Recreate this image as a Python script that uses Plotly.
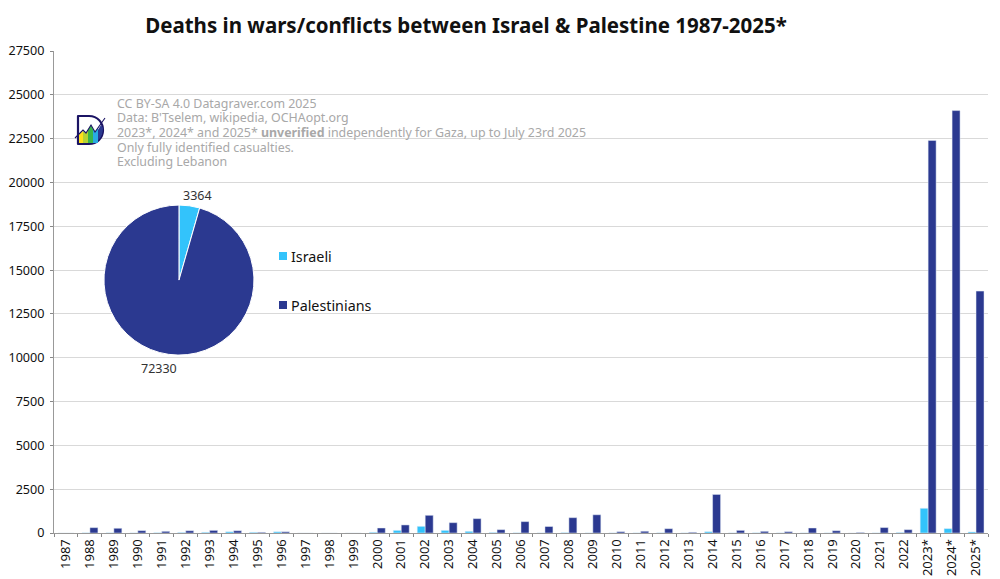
import plotly.graph_objects as go

FONT = "Noto Sans"

years = [str(y) for y in range(1987, 2023)] + ["2023*", "2024*", "2025*"]
israeli = [0, 10, 10, 5, 15, 30, 40, 70, 40, 70, 0, 0, 0, 40,
           150, 380, 150, 95, 30, 10, 5, 20, 5, 5, 5, 10, 5, 75,
           5, 10, 5, 5, 5, 0, 5, 30, 1410, 250, 60]
palestinians = [0, 305, 270, 135, 95, 130, 150, 130, 40, 70, 0, 0, 0, 285,
                460, 1010, 590, 820, 190, 650, 370, 875, 1040, 75, 100, 245, 40, 2200,
                150, 95, 75, 285, 130, 30, 310, 190, 22400, 24100, 13800]

pie_labels = ["Israeli", "Palestinians"]
pie_values = [3364, 72330]

y_ticks = [0, 2500, 5000, 7500, 10000, 12500, 15000, 17500, 20000, 22500, 25000, 27500]

title = "Deaths in wars/conflicts between Israel & Palestine 1987-2025*"
credit_lines = [
    "CC BY-SA 4.0 Datagraver.com 2025",
    "Data: B'Tselem, wikipedia, OCHAopt.org",
    "2023*, 2024* and 2025* <b>unverified</b> independently for Gaza, up to July 23rd 2025",
    "Only fully identified casualties.",
    "Excluding Lebanon",
]

LIGHT = "#33c3fb"
DARK = "#2b3990"

# the page puts the figure 8px in from the top left corner of the window
W, H = 992, 571
PLOT_W, PLOT_H = 934, 482
PLOT_LEFT, PLOT_TOP = 54, 51


def px(x):
    return (x - PLOT_LEFT) / PLOT_W


def py(y):
    return 1 - (y - PLOT_TOP) / PLOT_H


logo = ("<svg xmlns='http://www.w3.org/2000/svg' viewBox='0 0 32 32'>"
        "<path d='M4 2H15C24 2 29 9 29 16C29 24 23 30 15 30H4Z' fill='white' stroke='%231b1464' stroke-width='2.2' stroke-linejoin='round'/>"
        "<path d='M29 14C29 24 23 29 15 29L22 19L27 11Z' fill='%232b3990'/>"
        "<path d='M5 20L9 17V29H5Z' fill='%23ffe11a'/>"
        "<path d='M9 17L12 19L14 16V29H9Z' fill='%23b5d334'/>"
        "<path d='M14 16L17 11L19 15V29H14Z' fill='%2339b54a'/>"
        "<path d='M19 15L21 18L24 14V29H19Z' fill='%2329abe2'/>"
        "<path d='M1 24L9 16L12 19L17 11L21 18L31 4' fill='none' stroke='%231b1464' stroke-width='1.1'/>"
        "</svg>")

fig = go.Figure()
fig.add_trace(go.Bar(x=years, y=israeli, name="Israeli", marker_color=LIGHT))
fig.add_trace(go.Bar(x=years, y=palestinians, name="Palestinians", marker_color=DARK))
fig.add_trace(go.Pie(
    labels=pie_labels,
    values=pie_values,
    sort=False,
    direction="clockwise",
    rotation=0,
    marker=dict(colors=[LIGHT, DARK], line=dict(color="white", width=1)),
    textinfo="none",
    domain=dict(x=[0.0535, 0.2141], y=[0.369, 0.6805]),
    automargin=False,
))

annotations = []
for i, line in enumerate(credit_lines):
    annotations.append(dict(text=line, xref="paper", yref="paper", x=px(115), y=py(103 + i * 14.7),
                            xanchor="left", yanchor="middle", align="left", showarrow=False, height=15,
                            font=dict(family=FONT, size=12.4, color="#a8a8a8")))

# pie values, placed by hand since plotly pushes outside labels further out
for value, x, y in zip(pie_values, [197, 159], [195, 368]):
    annotations.append(dict(text=str(value), xref="paper", yref="paper", x=px(x), y=py(y),
                            xanchor="center", yanchor="middle", showarrow=False,
                            font=dict(family=FONT, size=12.5, color="#333333")))

# legend entries sit right next to the pie
shapes = []
for label, color, y in zip(pie_labels, [LIGHT, DARK], [256, 305]):
    annotations.append(dict(text=label, xref="paper", yref="paper", x=px(289), y=py(y),
                            xanchor="left", yanchor="middle", showarrow=False,
                            font=dict(family=FONT, size=14.3, color="#111111")))
    shapes.append(dict(type="rect", xref="paper", yref="paper", x0=px(279), x1=px(287),
                       y0=py(y + 4), y1=py(y - 4), fillcolor=color, line_width=0))

fig.update_layout(
    width=W,
    height=H,
    paper_bgcolor="white",
    plot_bgcolor="white",
    margin=dict(l=46, r=12, t=43, b=46),
    barmode="group",
    bargap=1 / 3,
    bargroupgap=0,
    showlegend=False,
    font=dict(family=FONT, color="#111111"),
    title=dict(text=title, font=dict(family=FONT, size=20.5, color="#111111", weight="bold"),
               x=(466 - 8) / W, xanchor="center", y=1 - (26 - 8) / H, yanchor="middle"),
    xaxis=dict(type="category", tickangle=-90, tickson="boundaries", ticks="outside", ticklen=3,
               tickcolor="#888888", linecolor="#999999", showline=True, automargin=False,
               tickfont=dict(family=FONT, size=13, color="#111111"), showgrid=False),
    yaxis=dict(range=[0, 27500], tickvals=y_ticks, ticktext=[str(v) for v in y_ticks],
               ticks="outside", ticklen=3, tickcolor="#888888", linecolor="#999999", showline=True,
               ticklabelstandoff=3, gridcolor="#d9d9d9", gridwidth=1, zeroline=False, automargin=False,
               tickfont=dict(family=FONT, size=12.6, color="#111111")),
    annotations=annotations,
    shapes=shapes,
    images=[dict(source="data:image/svg+xml;utf8," + logo, xref="paper", yref="paper",
                 x=px(74), y=py(114), sizex=32 / PLOT_W, sizey=32 / PLOT_H, xanchor="left", yanchor="top")],
)

fig.write_html("out.html")
